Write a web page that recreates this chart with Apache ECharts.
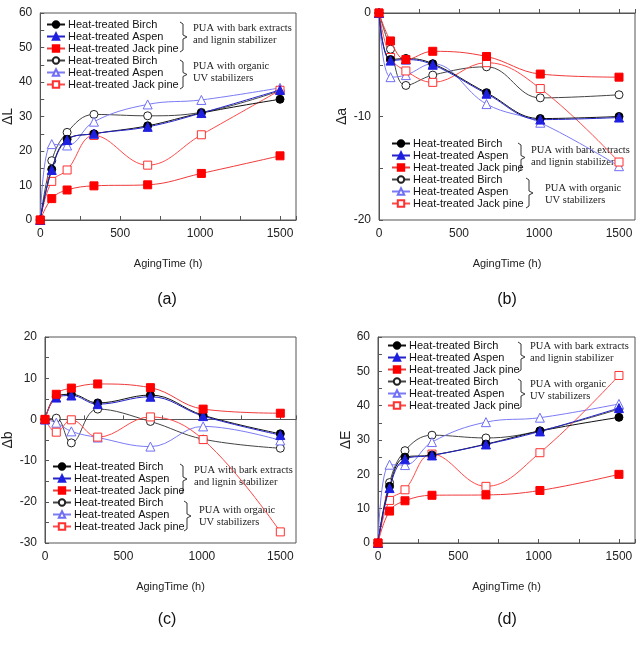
<!DOCTYPE html>
<html>
<head>
<meta charset="utf-8">
<script src="https://cdn.jsdelivr.net/npm/echarts@6/dist/echarts.min.js"></script>
<style>
  html, body { margin: 0; padding: 0; background: #fff; }
  #chart { width: 644px; height: 647px; }
</style>
</head>
<body>
<div id="chart"></div>
<script>
// aging time (h)
var hours = [0, 72, 168, 336, 672, 1008, 1500]

// (a) delta L
var birchBark_L = [0, 14.7, 23.4, 25.0, 27.3, 31.0, 35.0]
var aspenBark_L = [0, 14.5, 23.2, 25.0, 27.0, 31.0, 37.7]
var jackBark_L = [0, 6.2, 8.7, 9.9, 10.2, 13.5, 18.6]
var birchUV_L = [0, 17.2, 25.4, 30.6, 30.2, 31.2, 37.5]
var aspenUV_L = [0, 22.0, 21.6, 28.5, 33.5, 34.8, 38.3]
var jackUV_L = [0, 11.2, 14.5, 24.5, 15.9, 24.7, 37.6]

// (b) delta a
var birchBark_a = [0, -4.5, -4.4, -4.9, -7.7, -10.2, -10.0]
var aspenBark_a = [0, -4.6, -4.5, -5.0, -7.8, -10.3, -10.1]
var jackBark_a = [0, -2.7, -4.5, -3.7, -4.2, -5.9, -6.2]
var birchUV_a = [0, -3.5, -7.0, -6.0, -5.2, -8.2, -7.9]
var aspenUV_a = [0, -6.2, -6.0, -4.9, -8.8, -10.6, -14.8]
var jackUV_a = [0, -4.3, -5.6, -6.7, -4.8, -7.3, -14.4]

// (c) delta b
var birchBark_b = [0, 5.6, 6.1, 4.0, 5.9, 1.0, -3.5]
var aspenBark_b = [0, 5.3, 5.8, 3.7, 5.5, 0.8, -3.8]
var jackBark_b = [0, 6.1, 7.6, 8.6, 7.7, 2.5, 1.5]
var birchUV_b = [0, 0.3, -5.7, 2.5, -0.5, -4.8, -7.0]
var aspenUV_b = [0, -0.8, -2.9, -4.4, -6.6, -1.7, -5.1]
var jackUV_b = [0, -3.1, -0.1, -4.3, 0.6, -4.9, -27.3]

// (d) delta E
var birchBark_E = [0, 16.5, 25.0, 25.6, 28.8, 32.6, 36.6]
var aspenBark_E = [0, 16.0, 24.4, 25.5, 28.7, 32.5, 39.3]
var jackBark_E = [0, 9.3, 12.3, 13.9, 14.0, 15.3, 20.0]
var birchUV_E = [0, 17.6, 26.9, 31.4, 30.6, 32.7, 39.0]
var aspenUV_E = [0, 22.8, 22.7, 29.4, 35.2, 36.5, 40.5]
var jackUV_E = [0, 12.4, 15.5, 25.9, 16.5, 26.3, 48.8]

// legend names (open-symbol series get a trailing space so the legend keeps them apart)
var seriesNames = ['Heat-treated Birch', 'Heat-treated Aspen', 'Heat-treated Jack pine',
  'Heat-treated Birch ', 'Heat-treated Aspen ', 'Heat-treated Jack pine ']
var xTicks = [0, 500, 1000, 1500]

var looks = [
  { symbol: 'circle', size: 8, fill: '#000000', stroke: '#000000', line: '#111111' },
  { symbol: 'triangle', size: 9, fill: '#1f1fe0', stroke: '#1f1fe0', line: '#2323c8' },
  { symbol: 'rect', size: 8, fill: '#ff0000', stroke: '#ff0000', line: '#f03a3a' },
  { symbol: 'circle', size: 8, fill: '#ffffff', stroke: '#222222', line: '#444444' },
  { symbol: 'triangle', size: 9, fill: '#ffffff', stroke: '#6f6ff5', line: '#7b7bf5' },
  { symbol: 'rect', size: 8, fill: '#ffffff', stroke: '#ff3030', line: '#ff4a4a' }
]

var panels = [
  { yName: 'ΔL', min: 0, max: 60, gap: 24, grid: { left: 38, top: 13, width: 258, height: 207 },
    legend: { left: 46, top: 19 }, sets: [birchBark_L, aspenBark_L, jackBark_L, birchUV_L, aspenUV_L, jackUV_L] },
  { yName: 'Δa', min: -20, max: 0, gap: 30, grid: { left: 379, top: 13, width: 256, height: 207 },
    legend: { left: 391, top: 138 }, sets: [birchBark_a, aspenBark_a, jackBark_a, birchUV_a, aspenUV_a, jackUV_a] },
  { yName: 'Δb', min: -30, max: 20, gap: 30, grid: { left: 39, top: 337, width: 257, height: 206 },
    legend: { left: 52, top: 461 }, sets: [birchBark_b, aspenBark_b, jackBark_b, birchUV_b, aspenUV_b, jackUV_b] },
  { yName: 'ΔE', min: 0, max: 60, gap: 24, grid: { left: 378, top: 337, width: 257, height: 206 },
    legend: { left: 387, top: 340 }, sets: [birchBark_E, aspenBark_E, jackBark_E, birchUV_E, aspenUV_E, jackUV_E] }
]

// bracket x, top, bottom, and note text position for each group
var notes = [
  [{ x: 183, y0: 22, y1: 52, tx: 193, ty: 29, t: ['PUA with bark extracts', 'and lignin stabilizer'] },
   { x: 183, y0: 60, y1: 89, tx: 193, ty: 67, t: ['PUA with organic', 'UV stabilizers'] }],
  [{ x: 521, y0: 143, y1: 172, tx: 531, ty: 151, t: ['PUA with bark extracts', 'and lignin stabilizer'] },
   { x: 529, y0: 178, y1: 208, tx: 545, ty: 189, t: ['PUA with organic', 'UV stabilizers'] }],
  [{ x: 183, y0: 464, y1: 494, tx: 194, ty: 471, t: ['PUA with bark extracts', 'and lignin stabilizer'] },
   { x: 187, y0: 501, y1: 531, tx: 199, ty: 511, t: ['PUA with organic', 'UV stabilizers'] }],
  [{ x: 521, y0: 342, y1: 372, tx: 530, ty: 347, t: ['PUA with bark extracts', 'and lignin stabilizer'] },
   { x: 521, y0: 379, y1: 409, tx: 530, ty: 385, t: ['PUA with organic', 'UV stabilizers'] }]
]
var captions = [
  { t: '(a)', x: 167, y: 300 }, { t: '(b)', x: 507, y: 300 },
  { t: '(c)', x: 167, y: 620 }, { t: '(d)', x: 507, y: 620 }
]

var sans = 'Liberation Sans, Arial, sans-serif'
var serif = 'Liberation Serif, Times New Roman, serif'
var axisColor = '#555'

var option = {
  animation: false,
  backgroundColor: '#fff',
  grid: [], xAxis: [], yAxis: [], legend: [], series: [], graphic: []
}

panels.forEach(function (p, i) {
  option.grid.push(Object.assign({ show: true, borderColor: axisColor, borderWidth: 1 }, p.grid))
  option.xAxis.push({
    type: 'value', gridIndex: i, min: 0, max: 1600, interval: 250,
    name: 'AgingTime (h)', nameLocation: 'middle', nameGap: 38,
    nameTextStyle: { fontFamily: sans, fontSize: 11, color: '#222' },
    axisLine: { lineStyle: { color: axisColor } },
    axisTick: { inside: true, length: 4, lineStyle: { color: axisColor } },
    splitLine: { show: false },
    axisLabel: {
      fontFamily: sans, fontSize: 12, color: '#222', margin: 8,
      formatter: function (v) { return xTicks.indexOf(v) >= 0 ? String(v) : '' }
    }
  })
  option.yAxis.push({
    type: 'value', gridIndex: i, min: p.min, max: p.max, interval: 5,
    name: p.yName, nameLocation: 'middle', nameGap: p.gap, nameRotate: 90,
    nameTextStyle: { fontFamily: sans, fontSize: 14, color: '#222' },
    axisLine: { lineStyle: { color: axisColor } },
    axisTick: { inside: true, length: 4, lineStyle: { color: axisColor } },
    splitLine: { show: false },
    axisLabel: {
      fontFamily: sans, fontSize: 12, color: '#222', margin: 8,
      formatter: function (v) { return v % 10 === 0 ? String(v) : '' }
    }
  })
  option.legend.push({
    left: p.legend.left, top: p.legend.top, orient: 'vertical', padding: 0,
    itemWidth: 18, itemHeight: 8, itemGap: 1, data: seriesNames,
    textStyle: { fontFamily: sans, fontSize: 11, color: '#111', padding: [0, 0, 0, -2] }
  })
  p.sets.forEach(function (vals, k) {
    var lk = looks[k]
    option.series.push({
      name: seriesNames[k], type: 'line', xAxisIndex: i, yAxisIndex: i,
      data: hours.map(function (h, j) { return [h, vals[j]] }),
      smooth: 0.4, symbol: lk.symbol, symbolSize: lk.size, showAllSymbol: true,
      lineStyle: { color: lk.line, width: 1 },
      itemStyle: { color: lk.fill, borderColor: lk.stroke, borderWidth: 1 },
      z: k < 3 ? 3 : 2
    })
  })
  notes[i].forEach(function (n) {
    var m = (n.y0 + n.y1) / 2
    option.graphic.push({
      type: 'polyline', silent: true,
      shape: { points: [[n.x - 3, n.y0], [n.x, n.y0 + 2], [n.x, m - 2], [n.x + 4, m], [n.x, m + 2], [n.x, n.y1 - 2], [n.x - 3, n.y1]] },
      style: { stroke: '#333', lineWidth: 1, fill: null }
    })
    n.t.forEach(function (line, r) {
      option.graphic.push({
        type: 'text', silent: true, left: n.tx, top: n.ty + r * 12 - 6,
        style: { text: line, font: '10.5px ' + serif, fill: '#222' }
      })
    })
  })
})

captions.forEach(function (c) {
  option.graphic.push({
    type: 'text', silent: true, x: c.x, y: c.y,
    style: { text: c.t, font: '16px ' + sans, fill: '#111', align: 'center', verticalAlign: 'middle' }
  })
})

var chart = echarts.init(document.getElementById('chart'))
chart.setOption(option)
</script>
</body>
</html>
